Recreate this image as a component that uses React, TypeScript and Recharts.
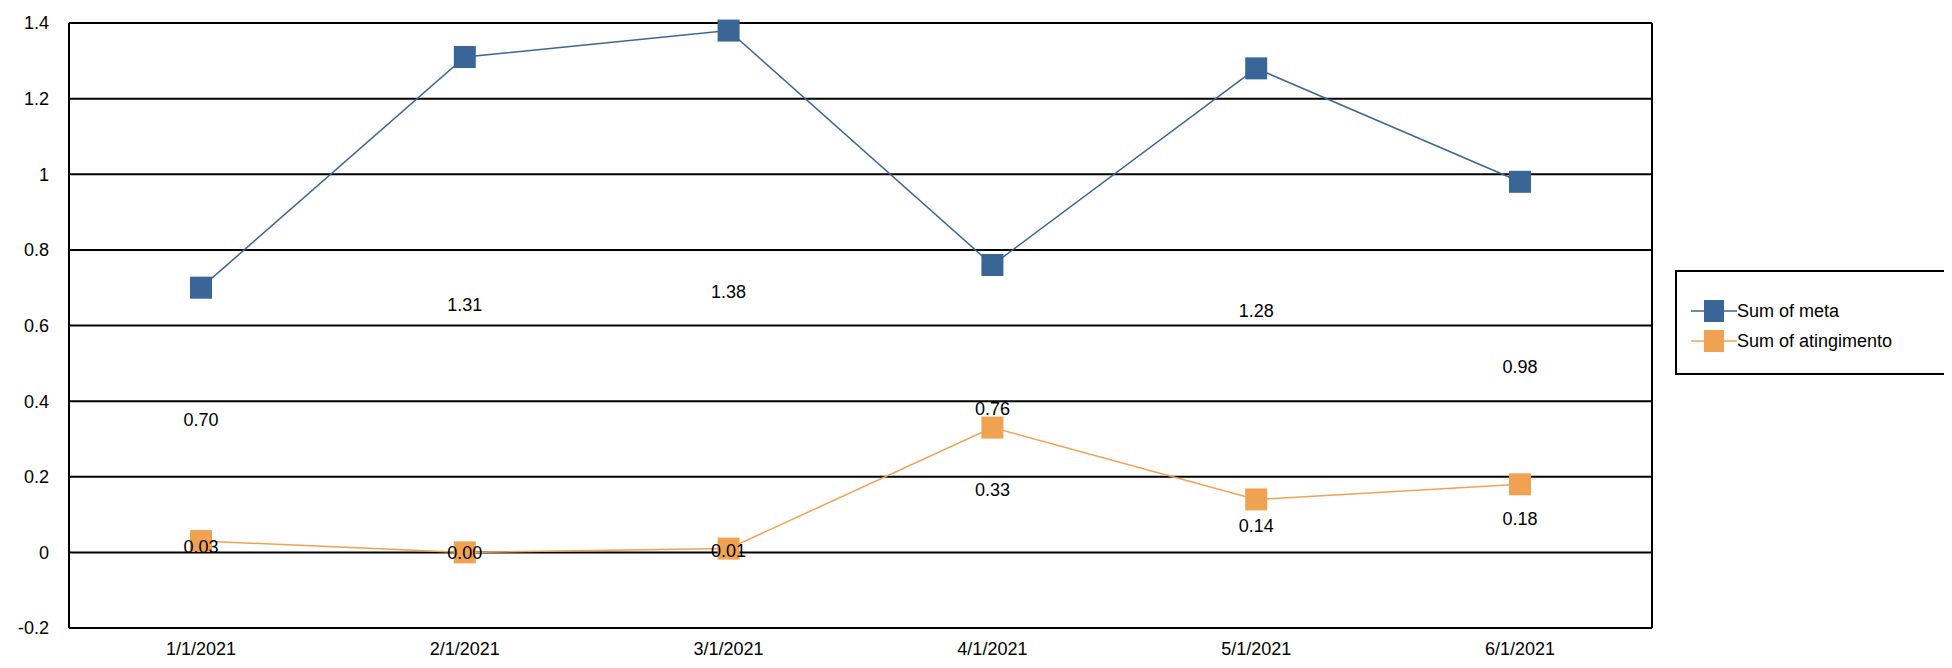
import {
  LineChart,
  Line,
  XAxis,
  YAxis,
  CartesianGrid,
  LabelList,
} from "recharts";

const months = ["1/1/2021", "2/1/2021", "3/1/2021", "4/1/2021", "5/1/2021", "6/1/2021"];
const meta = [0.7, 1.31, 1.38, 0.76, 1.28, 0.98];
const atingimento = [0.03, 0.0, 0.01, 0.33, 0.14, 0.18];
const yTicks = [-0.2, 0, 0.2, 0.4, 0.6, 0.8, 1, 1.2, 1.4];

// labels sit halfway between the point and zero, like the source export
const data = months.map((m, i) => ({
  month: m,
  meta: meta[i],
  atingimento: atingimento[i],
  metaMid: meta[i] / 2,
  atingMid: atingimento[i] / 2,
}));

const FONT = "'Liberation Sans', Arial, sans-serif";

const Square = (color: string) => (props: any) => (
  <rect key={props.index} x={props.cx - 11} y={props.cy - 11} width={22} height={22} fill={color} />
);

const LegendBox = () => (
  <div
    style={{
      position: "absolute",
      left: 1675,
      top: 270,
      border: "2px solid #000",
      width: 290,
      height: 105,
      boxSizing: "border-box",
      fontFamily: FONT,
      fontSize: 18,
      paddingTop: 24,
      paddingLeft: 14,
      background: "#fff",
    }}
  >
    {[
      ["Sum of meta", "#3a6597"],
      ["Sum of atingimento", "#f0a253"],
    ].map(([name, c]) => (
      <div key={name} style={{ display: "flex", alignItems: "center", height: 30 }}>
        <svg width={46} height={24}>
          <line x1={0} x2={46} y1={12} y2={12} stroke={c} strokeWidth={1.5} />
          <rect x={13} y={1} width={20} height={22} fill={c} />
        </svg>
        <span>{name}</span>
      </div>
    ))}
  </div>
);

export default function App() {
  return (
    <div style={{ margin: -8, background: "#fff", position: "relative", width: 1952, height: 668, overflow: "hidden" }}>
      <LineChart
        width={1952}
        height={668}
        data={data}
        margin={{ top: 23, right: 300, bottom: 10, left: 8 }}
      >
        <CartesianGrid
          stroke="#000"
          strokeWidth={2}
          verticalPoints={[69, 1652]}
        />
        <XAxis
          dataKey="month"
          padding={{ left: 132, right: 132 }}
          axisLine={false}
          tickLine={false}
          height={30}
          tick={{ fill: "#000", fontSize: 18, fontFamily: FONT }}
          tickMargin={8}
        />
        <YAxis
          domain={[-0.2, 1.4]}
          ticks={yTicks}
          width={61}
          axisLine={{ stroke: "#000", strokeWidth: 2 }}
          tickLine={false}
          tick={{ fill: "#000", fontSize: 18, fontFamily: FONT }}
          tickMargin={14}
        />
        <Line
          dataKey="meta"
          stroke="#3a6597"
          strokeWidth={1.5}
          dot={Square("#3a6597")}
          activeDot={false}
          isAnimationActive={false}
        />
        <Line
          dataKey="atingimento"
          stroke="#f0a253"
          strokeWidth={1.5}
          dot={Square("#f0a253")}
          activeDot={false}
          isAnimationActive={false}
        />
        <Line dataKey="metaMid" stroke="none" dot={false} activeDot={false} isAnimationActive={false}>
          <LabelList
            dataKey="meta"
            position="center"
            formatter={(v: any) => Number(v).toFixed(2)}
            style={{ fill: "#000", fontSize: 18, fontFamily: FONT }}
          />
        </Line>
        <Line dataKey="atingMid" stroke="none" dot={false} activeDot={false} isAnimationActive={false}>
          <LabelList
            dataKey="atingimento"
            position="center"
            formatter={(v: any) => Number(v).toFixed(2)}
            style={{ fill: "#000", fontSize: 18, fontFamily: FONT }}
          />
        </Line>
      </LineChart>
      <LegendBox />
    </div>
  );
}
